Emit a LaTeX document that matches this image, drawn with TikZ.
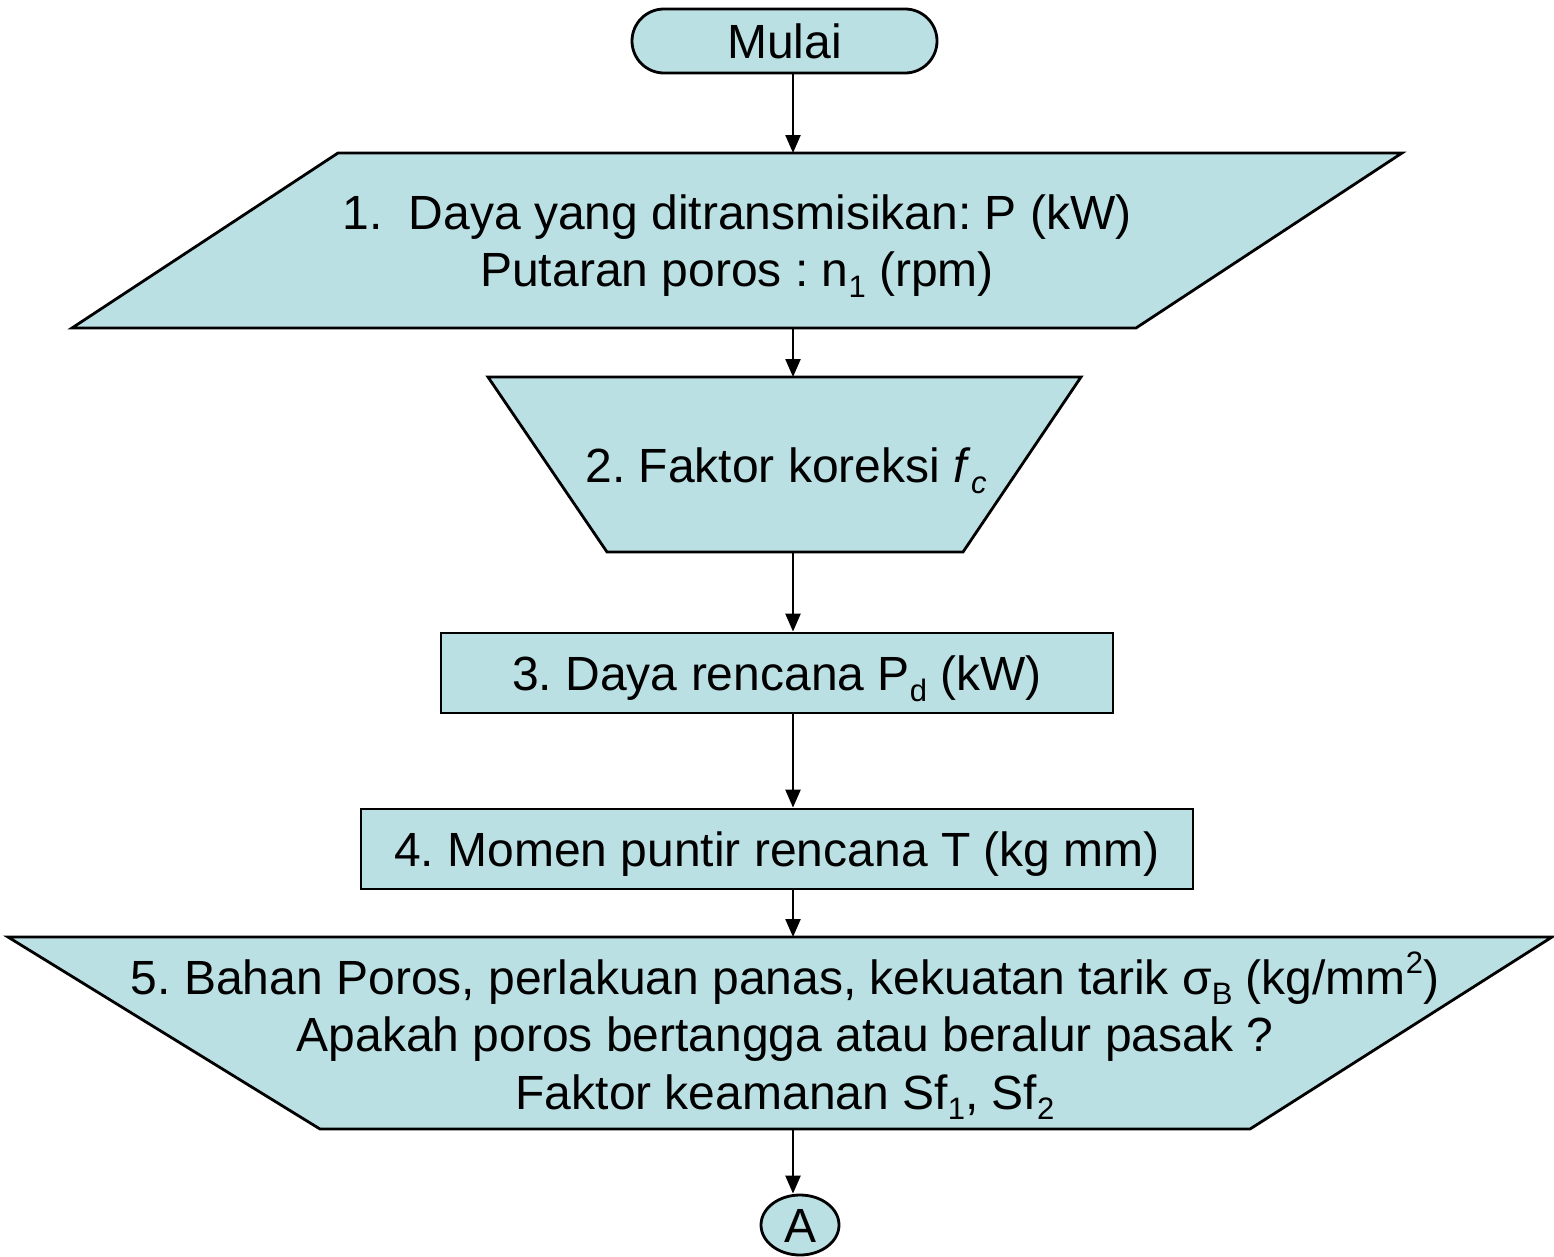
\documentclass[tikz,border=0pt]{standalone}
\usepackage{fontspec}
\setmainfont{Liberation Sans}
\usetikzlibrary{arrows.meta,shapes.geometric,shapes.misc,calc}
\definecolor{boxfill}{RGB}{187,224,228}
\newcommand\lo[1]{\raisebox{-0.22em}{\fontsize{31}{31}\selectfont #1}}
\newcommand\hi[1]{\raisebox{0.42em}{\fontsize{31}{31}\selectfont #1}}
\frenchspacing
\begin{document}
\begin{tikzpicture}[x=1pt,y=-1pt,
  shapebox/.style={fill=boxfill,draw=black,line width=2.8pt,line join=miter},
  lbl/.style={font=\fontsize{48}{57.5}\selectfont,align=center,inner sep=0pt},
  onetext/.style={inner sep=0pt,text height=35pt,text depth=0pt,font=\fontsize{48}{57.5}\selectfont},
  arr/.style={line width=2.3pt,-{Triangle[width=15pt,length=18pt]}}]
\useasboundingbox (0,0) rectangle (1554,1256);
\coordinate (ax) at (793,0);

% Start
\node[shapebox,rounded rectangle,minimum width=305pt,minimum height=64pt,onetext] (mulai) at (784.5,41) {Mulai};

% 1. input parallelogram
\filldraw[shapebox] (338,153) -- (1402,153) -- (1136,328) -- (72,328) -- cycle;
\coordinate (p1top) at (793,153);
\coordinate (p1bot) at (793,328);
\node[lbl] (t1) at (737,246) {1.\hspace{0.55em}Daya yang ditransmisikan: P (kW)\\Putaran poros : n\lo{1} (rpm)};

% 2. manual input trapezoid
\filldraw[shapebox] (488,377) -- (1081,377) -- (963,552) -- (607,552) -- cycle;
\coordinate (p2top) at (793,377);
\coordinate (p2bot) at (793,552);
\node[lbl] (t2) at (786,471) {2. Faktor koreksi \textit{f}\lo{\textit{c}}};

% 3. process
\node[shapebox,rectangle,minimum width=672pt,minimum height=80pt,onetext] (b3) at (777,673) {3. Daya rencana P\lo{d} (kW)};

% 4. process
\node[shapebox,rectangle,minimum width=832pt,minimum height=80pt,onetext] (b4) at (777,849) {4. Momen puntir rencana T (kg mm)};

% 5. manual operation
\filldraw[shapebox] (8,937) -- (1552,937) -- (1250,1129) -- (320,1129) -- cycle;
\coordinate (p5top) at (793,937);
\coordinate (p5bot) at (793,1129);
\node[lbl] (t5) at (785,1036) {5. Bahan Poros, perlakuan panas, kekuatan tarik σ\lo{B} (kg/mm\hi{2})\\
Apakah poros bertangga atau beralur pasak ?\\
Faktor keamanan Sf\lo{1}, Sf\lo{2}};

% connector A
\node[shapebox,ellipse,minimum width=78pt,minimum height=60pt,onetext] (ca) at (800,1225) {A};

% arrows
\draw[arr] (mulai.south -| ax) -- (p1top);
\draw[arr] (p1bot) -- (p2top);
\draw[arr] (p2bot) -- (b3.north -| ax);
\draw[arr] (b3.south -| ax) -- (b4.north -| ax);
\draw[arr] (b4.south -| ax) -- (p5top);
\draw[arr] (p5bot) -- (ca.north -| ax);
\end{tikzpicture}
\end{document}
